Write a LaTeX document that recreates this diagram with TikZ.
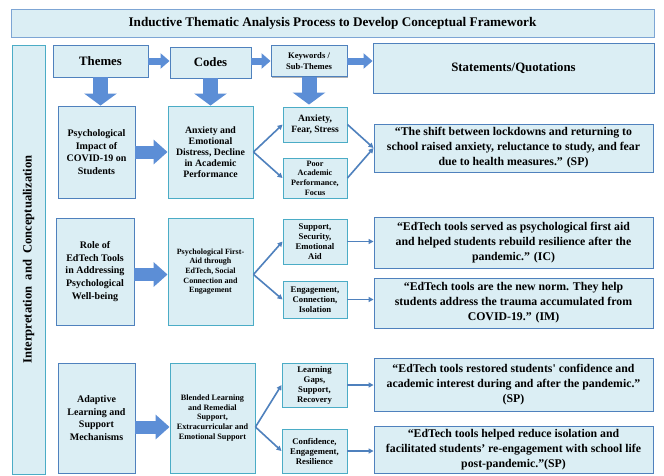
\documentclass[tikz,border=0pt]{standalone}
\usepackage{fontspec}
\setmainfont{Liberation Serif}
\usepackage{tikz}
\usetikzlibrary{arrows.meta}
\usetikzlibrary{shadows}
\definecolor{boxfill}{RGB}{219,238,244}
\definecolor{themeline}{RGB}{79,129,189}
\definecolor{codeline}{RGB}{75,172,198}
\definecolor{titleline}{RGB}{125,165,212}
\definecolor{arrowblue}{RGB}{92,142,214}
\definecolor{linkblue}{RGB}{79,129,189}

\tikzset{
  box/.style={draw=themeline, fill=boxfill, line width=0.9pt, align=center, inner sep=1pt,
    drop shadow={shadow xshift=1.2pt, shadow yshift=-1.2pt, fill=black, opacity=0.3}},
  titlebox/.style={box, draw=titleline, font=\bfseries\fontsize{13.2}{15}\selectfont},
  headbox/.style={box, font=\bfseries\fontsize{12.8}{15}\selectfont},
  themebox/.style={box, font=\bfseries\fontsize{10}{12.6}\selectfont},
  codebox/.style={box, draw=codeline, font=\bfseries\fontsize{9.8}{10.9}\selectfont},
  kwbox/.style={box, draw=codeline, font=\bfseries\fontsize{8.7}{10}\selectfont},
  quotebox/.style={box, font=\bfseries\fontsize{11.8}{15}\selectfont},
  bigarrow/.style={draw=arrowblue, line width=13pt, -{Triangle[width=24pt,length=14pt]}},
  smallarrow/.style={draw=arrowblue, line width=7pt, -{Triangle[width=15pt,length=9pt]}},
  downarrow/.style={draw=arrowblue, line width=15pt, -{Triangle[width=32pt,length=12pt]}},
  link/.style={draw=linkblue, line width=1.6pt, -{Triangle[width=5pt,length=5pt]}}
}

\begin{document}
\begin{tikzpicture}[x=1pt, y=-1pt]
\path[fill=white, use as bounding box] (0,0) rectangle (664,475);

% Title and side label
\node[titlebox, minimum width=643pt, minimum height=28pt] (title) at (332.5,23)
  {Inductive Thematic Analysis Process to Develop Conceptual Framework};
\node[box, draw=codeline, minimum width=33pt, minimum height=429pt] (side) at (28.5,259.5) {};
\node[rotate=90, font=\bfseries\fontsize{12.6}{14}\selectfont] (sidetext) at (side.center)
  {Interpretation\ \ and\ \ Conceptualization};

% Header row
\node[headbox, minimum width=95pt, minimum height=32pt] (themes) at (100.5,61) {Themes};
\node[headbox, minimum width=81pt, minimum height=31pt] (codes) at (210.5,62.5) {Codes};
\node[kwbox, draw=themeline, font=\bfseries\fontsize{8.6}{10.5}\selectfont,
  minimum width=76pt, minimum height=31pt] (keywords) at (309,61) {Keywords /\\Sub-Themes};
\node[headbox, minimum width=281pt, minimum height=50pt] (statements) at (513.5,68) {Statements/Quotations};

% Row 1
\node[themebox, minimum width=77pt, minimum height=92pt] (th1) at (96.5,152)
  {Psychological\\Impact of\\COVID-19 on\\Students};
\node[codebox, minimum width=85pt, minimum height=92pt] (cd1) at (210.5,152)
  {Anxiety and\\Emotional\\Distress, Decline\\in Academic\\Performance};
\node[kwbox, font=\bfseries\fontsize{9.6}{11}\selectfont, minimum width=64pt, minimum height=35pt] (kw1a) at (315,124.5)
  {Anxiety,\\Fear, Stress};
\node[kwbox, font=\bfseries\fontsize{8.2}{9.7}\selectfont, minimum width=64pt, minimum height=40pt] (kw1b) at (315,178)
  {Poor\\Academic\\Performance,\\Focus};
\node[quotebox, minimum width=279pt, minimum height=48pt] (q1) at (513.5,148)
  {“The shift between lockdowns and returning to\\school raised anxiety, reluctance to study, and fear\\due to health measures.” (SP)};

% Row 2
\node[themebox, minimum width=78pt, minimum height=107pt] (th2) at (95,271.5)
  {Role of\\EdTech Tools\\in Addressing\\Psychological\\Well-being};
\node[codebox, font=\bfseries\fontsize{8}{9.6}\selectfont, minimum width=85pt, minimum height=107pt] (cd2) at (210.5,271.5)
  {Psychological First-\\Aid through\\EdTech, Social\\Connection and\\Engagement};
\node[kwbox, minimum width=64pt, minimum height=45pt] (kw2a) at (315,241.5)
  {Support,\\Security,\\Emotional\\Aid};
\node[kwbox, minimum width=64pt, minimum height=37pt] (kw2b) at (315,299.5)
  {Engagement,\\Connection,\\Isolation};
\node[quotebox, minimum width=279pt, minimum height=51pt] (q2a) at (513.5,242.5)
  {“EdTech tools served as psychological first aid\\and helped students rebuild resilience after the\\pandemic.” (IC)};
\node[quotebox, minimum width=279pt, minimum height=50pt] (q2b) at (513.5,303)
  {“EdTech tools are the new norm. They help\\students address the trauma accumulated from\\COVID-19.” (IM)};

% Row 3
\node[themebox, minimum width=77pt, minimum height=110pt] (th3) at (96.5,418)
  {Adaptive\\Learning and\\Support\\Mechanisms};
\node[codebox, font=\bfseries\fontsize{8.2}{9.6}\selectfont, minimum width=85pt, minimum height=110pt] (cd3) at (212.5,418)
  {Blended Learning\\and Remedial\\Support,\\Extracurricular and\\Emotional Support};
\node[kwbox, minimum width=65pt, minimum height=44pt] (kw3a) at (314.5,385)
  {Learning\\Gaps,\\Support,\\Recovery};
\node[kwbox, minimum width=65pt, minimum height=44pt] (kw3b) at (314.5,451)
  {Confidence,\\Engagement,\\Resilience};
\node[quotebox, minimum width=279pt, minimum height=53pt] (q3a) at (513.5,384.5)
  {“EdTech tools restored students\textquotesingle{} confidence and\\academic interest during and after the pandemic.”\\(SP)};
\node[quotebox, minimum width=279pt, minimum height=47pt] (q3b) at (513.5,449.5)
  {“EdTech tools helped reduce isolation and\\facilitated students’ re-engagement with school life\\post-pandemic.”(SP)};

% Block arrows
\draw[smallarrow] (themes.east) -- (themes.east -| codes.west);
\draw[smallarrow] (codes.east |- keywords.east) -- (keywords.west);
\draw[smallarrow] (keywords.east) -- (keywords.east -| statements.west);
\draw[downarrow] (themes.south) -- (themes.south |- th1.north);
\draw[downarrow] (codes.south) -- (codes.south |- cd1.north);
\draw[downarrow] (keywords.south) -- ([yshift=2pt]keywords.south |- kw1a.north);
\draw[bigarrow] (th1) -- (cd1);
\draw[bigarrow] ([yshift=-3pt]th2.east) -- ([yshift=-3pt]cd2.west);
\draw[bigarrow] ([yshift=-9pt]th3.east) -- ([yshift=-9pt]cd3.west);

% Links to keywords and quotes
\draw[link] (cd1.east) -- (kw1a.west);
\draw[link] (cd1.east) -- (kw1b.west);
\draw[link] (kw1a.east) -- (q1.west);
\draw[link] (kw1b.east) -- (q1.west);
\draw[link] ([yshift=-3pt]cd2.east) -- (kw2a.west);
\draw[link] ([yshift=-3pt]cd2.east) -- (kw2b.west);
\draw[link] (kw2a.east) -- (kw2a.east -| q2a.west);
\draw[link] (kw2b.east) -- (kw2b.east -| q2b.west);
\draw[link] ([yshift=-9pt]cd3.east) -- (kw3a.west);
\draw[link] ([yshift=-9pt]cd3.east) -- (kw3b.west);
\draw[link] (kw3a.east) -- (kw3a.east -| q3a.west);
\draw[link] (kw3b.east) -- (kw3b.east -| q3b.west);

\end{tikzpicture}
\end{document}
